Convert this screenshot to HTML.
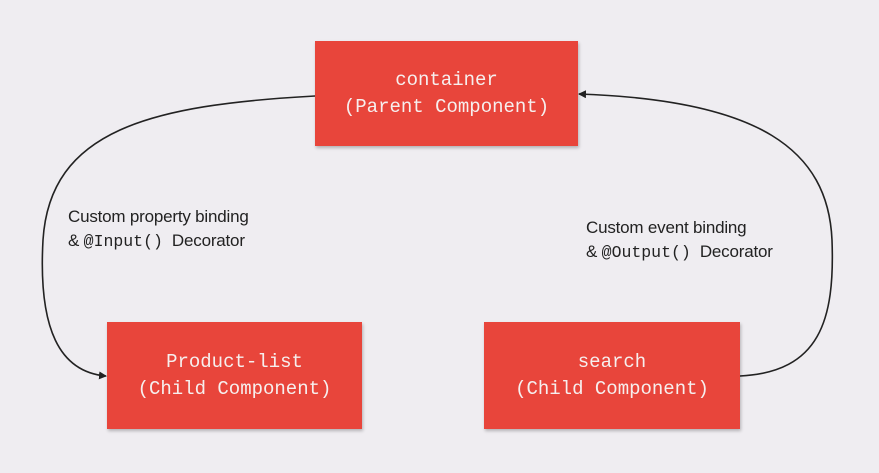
<!DOCTYPE html>
<html><head><style>
body{margin:0;width:879px;height:473px;background:#efedf1;position:relative;overflow:hidden;font-family:"Liberation Sans",sans-serif}
.b{position:absolute;background:#e8453b;color:#f6efee;font-family:"Liberation Mono",monospace;font-size:19px;line-height:27px;text-align:center;display:flex;flex-direction:column;justify-content:center;box-shadow:1px 2px 3px rgba(0,0,0,.25)}
.l{position:absolute;font-size:17px;line-height:24px;color:#222;letter-spacing:-0.2px}
.l code{font-family:"Liberation Mono",monospace;font-size:16.5px;letter-spacing:0}
</style></head><body>
<svg width="879" height="473" style="position:absolute;left:0;top:0">
<defs><marker id="a" markerWidth="8" markerHeight="8" refX="7" refY="4" orient="auto" markerUnits="userSpaceOnUse"><path d="M0,0L8,4L0,8z" fill="#222"/></marker></defs>
<path d="M315,96 C150,105 50,130 43,240 C38,330 60,372 106,376" fill="none" stroke="#222" stroke-width="1.6" marker-end="url(#a)"/>
<path d="M740,376 C820,372 835,320 832,240 C828,150 760,100 579,94" fill="none" stroke="#222" stroke-width="1.6" marker-end="url(#a)"/>
</svg>
<div class="b" style="left:315px;top:41px;width:263px;height:105px"><div>container</div><div>(Parent Component)</div></div>
<div class="b" style="left:107px;top:322px;width:255px;height:107px"><div>Product-list</div><div>(Child Component)</div></div>
<div class="b" style="left:484px;top:322px;width:256px;height:107px"><div>search</div><div>(Child Component)</div></div>
<div class="l" style="left:68px;top:205px">Custom property binding<br>&amp; <code>@Input()</code>&nbsp; Decorator</div>
<div class="l" style="left:586px;top:216px">Custom event binding<br>&amp; <code>@Output()</code>&nbsp; Decorator</div>
</body></html>
